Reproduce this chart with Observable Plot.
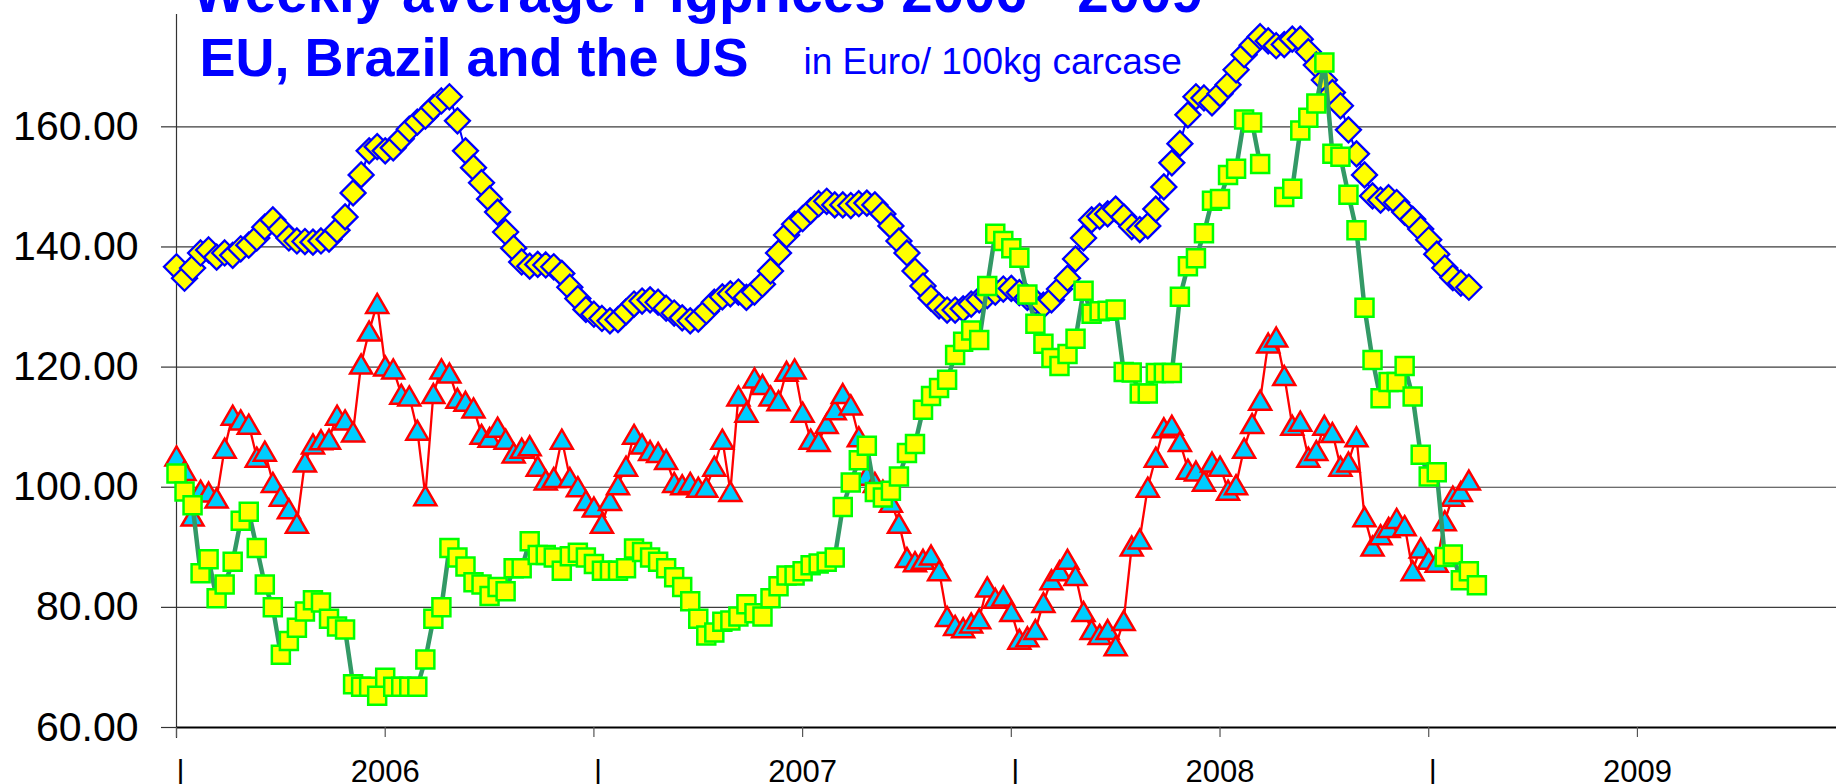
<!DOCTYPE html>
<html>
<head>
<meta charset="utf-8">
<script src="https://cdn.jsdelivr.net/npm/d3@7"></script>
<script src="https://cdn.jsdelivr.net/npm/@observablehq/plot@0.6"></script>
<style>
  html, body { margin: 0; padding: 0; background: #fff; }
  #chart { width: 1836px; height: 784px; overflow: hidden; }
</style>
</head>
<body>
<div id="chart"></div>
<script>
// Weekly pig prices, EUR / 100 kg carcase, week index from the first week of 2006
const euPrices = [
  136.7, 134.8, 136.5, 139, 139.5, 138.3, 139, 138.6, 139.7, 140.3,
  141.5, 143.3, 144.5, 143, 141.5, 141, 140.9, 140.8, 141, 141.3,
  142.8, 145, 149, 152, 156, 156.7, 156, 156.5, 158, 159.6,
  160.8, 161.8, 163.2, 164.3, 165, 161, 156, 153.2, 150.7, 148,
  145.8, 142.5, 139.8, 137.5, 136.8, 137.1, 137, 136.7, 135.6, 133.3,
  131.4, 129.6, 128.8, 128.1, 127.7, 127.9, 129.2, 130.5, 131, 131.2,
  130.8, 129.8, 129, 128.2, 127.7, 128, 129.3, 130.8, 131.7, 132.2,
  132.5, 131.6, 132.5, 133.8, 136, 139, 142, 143.8, 144.7, 146,
  147.2, 147.6, 147, 147, 146.9, 147.2, 147.3, 147, 145.5, 143.5,
  141, 139, 136, 133.5, 131.5, 130.2, 129.5, 129.5, 129.7, 130.5,
  131.2, 131.9, 132.5, 133, 133.1, 132.4, 131.6, 130.9, 130.3, 131.2,
  133, 134.8, 138, 141.5, 144.5, 145.1, 145.5, 146.3, 145, 143.4,
  142.9, 143.5, 146.3, 150, 154, 157.2, 162, 165, 164.8, 164,
  165.5, 167, 169.5, 172, 173.6, 175, 174.3, 173.5, 173.7, 174.6,
  174.6, 172.5, 170.3, 167.8, 165.7, 163.5, 159.5, 155.5, 152, 148.5,
  147.8, 148.2, 147.4, 145.8, 144.6, 143, 141.2, 138.8, 136.5, 134.9,
  134, 133.3
];
const brazilPrices = [
  105.2, 102.8, 95.2, 99.5, 99.2, 98.2, 106.5, 112, 111.2, 110.5,
  105, 106, 100.8, 98.5, 96.4, 94, 104.2, 107.2, 107.9, 108,
  112, 111.2, 109.2, 120.5, 126, 130.6, 120.2, 119.7, 115.5, 115.2,
  109.5, 98.6, 115.6, 119.7, 119, 114.8, 114.3, 113.2, 108.8, 108.3,
  110, 108, 105.7, 106.5, 106.9, 103.5, 101.2, 101.6, 108, 101.6,
  100.1, 97.8, 96.7, 94, 97.8, 100.4, 103.5, 108.8, 107.2, 106.1,
  105.8, 104.6, 100.8, 100.4, 100.8, 100, 100, 103.5, 108, 99.3,
  115.2, 112.5, 118.2, 117.1, 115.2, 114.4, 119.3, 119.7, 112.5, 108,
  107.6, 110.6, 112.9, 115.6, 113.7, 108.4, 102, 100.8, 99.5, 97.5,
  94, 88.3, 87.6, 88, 88.7, 86.1, 78.5, 77, 76.6, 77.4,
  78.1, 83.4, 81.5, 81.9, 79.3, 74.7, 75.1, 76.3, 80.8, 84.6,
  86.1, 88, 85.3, 79.3, 76.3, 75.5, 76.3, 73.6, 77.8, 90.2,
  91.4, 100, 105, 109.9, 110.3, 107.6, 103, 102.7, 101, 104.2,
  103.5, 99.5, 100.4, 106.5, 110.6, 114.5, 124, 125, 118.6, 110.3,
  111, 105, 106.1, 110.3, 109.1, 103.5, 104.2, 108.4, 95.1, 90.2,
  92.1, 93.3, 94.8, 93.6, 86.1, 89.9, 88, 87.5, 94.4, 98.5,
  99.3, 101.2
];
const usPrices = [
  102.3, 99.3, 97, 85.7, 88, 81.5, 83.8, 87.6, 94.4, 95.9,
  89.9, 83.8, 80, 72.1, 74.4, 76.6, 79.3, 81.2, 80.8, 78.1,
  76.8, 76.3, 67.2, 66.8, 66.8, 65.3, 68.3, 66.8, 66.8, 66.8,
  66.8, 71.3, 78.1, 80, 89.9, 88.3, 86.8, 84.2, 83.8, 81.9,
  83.4, 82.7, 86.5, 86.5, 91, 88.7, 88.7, 88.3, 86.1, 88.5,
  89.1, 88.3, 87.2, 86.1, 86.1, 86.1, 86.5, 89.8, 89.2, 88.3,
  87.6, 86.5, 85, 83.4, 81, 78.1, 75.3, 75.8, 77.6, 77.8,
  78.5, 80.5, 79, 78.5, 81.5, 83.5, 85.3, 85.3, 86, 87,
  87.3, 87.6, 88.3, 96.7, 100.8, 104.5, 106.9, 99.2, 98.3, 99.4,
  101.8, 105.7, 107.2, 112.9, 115.2, 116.5, 117.9, 122, 124.2, 126.1,
  124.5, 133.5, 142.2, 141, 139.8, 138.2, 132.1, 127.2, 123.9, 121.5,
  120.2, 122.2, 124.7, 132.7, 128.9, 129.3, 129.4, 129.6, 119.2, 119.1,
  115.6, 115.6, 119, 119, 119, 131.7, 136.8, 138.1, 142.3, 147.7,
  148, 152, 153, 161.2, 160.7, 153.8, null, null, 148.3, 149.7,
  159.4, 161.5, 163.9, 170.7, 155.5, 155, 148.7, 142.8, 129.9, 121.2,
  114.8, 117.5, 117.5, 120.2, 115.1, 105.4, 101.8, 102.5, 88.4, 88.8,
  84.5, 86, 83.7
];

const yTicks = [60, 80, 100, 120, 140, 160];
const gridValues = [80, 100, 120, 140, 160];
const weekTicks = [0, 26, 52, 78, 104, 130, 156, 182];
const yearLabels = ["2006", "2007", "2008", "2009"];
const yearMidWeeks = [26, 78, 130, 182];
const yearStartWeeks = [0, 52, 104, 156];
const titleLine1 = "Weekly average Pigprices 2006 - 2009";
const titleLine2 = "EU, Brazil and the US";
const subtitle = "in Euro/ 100kg carcase";

const toRows = (vals) => vals.map((v, i) => ({week: i, value: v}));
const euRows = toRows(euPrices);
const brRows = toRows(brazilPrices);
const usRows = toRows(usPrices);
const yearRows = yearMidWeeks.map((w, i) => ({week: w, label: yearLabels[i]}));

// marker shapes (Excel-like, centred on their bounding box)
const diamondSymbol = {draw(c) { c.moveTo(0, -12.5); c.lineTo(12.5, 0); c.lineTo(0, 12.5); c.lineTo(-12.5, 0); c.closePath(); }};
const triangleSymbol = {draw(c) { c.moveTo(0, -9.5); c.lineTo(11, 9.5); c.lineTo(-11, 9.5); c.closePath(); }};
const squareSymbol = {draw(c) { c.moveTo(-9, -9); c.lineTo(9, -9); c.lineTo(9, 9); c.lineTo(-9, 9); c.closePath(); }};

const font = "'Liberation Sans', Arial, Helvetica, sans-serif";

const chart = Plot.plot({
  width: 1836,
  height: 784,
  marginLeft: 176,
  marginRight: 0,
  marginTop: 14,
  marginBottom: 57,
  style: {fontFamily: font, background: "#fff", color: "#000"},
  x: {type: "linear", domain: [0, 206.8], axis: null},
  y: {type: "linear", domain: [60, 178.7], axis: null},
  marks: [
    Plot.ruleY(gridValues, {stroke: "#3c3c3c", strokeWidth: 1.2}),
    Plot.ruleX([0], {stroke: "#333", strokeWidth: 1.2, insetBottom: -11}),
    Plot.ruleY([60], {stroke: "#000", strokeWidth: 2}),
    Plot.axisY(yTicks, {
      label: null, tickSize: 15, tickPadding: 23, stroke: "#333", strokeWidth: 1.2,
      tickFormat: (d) => d.toFixed(2), fontSize: 41, fill: "#000", fontVariant: "normal"
    }),
    Plot.axisX(weekTicks, {label: null, tickSize: 10, stroke: "#555", strokeWidth: 1.2, tickFormat: () => ""}),
    Plot.text(yearRows, {x: "week", text: "label", frameAnchor: "bottom", dy: 54, lineAnchor: "bottom", fontSize: 31, fill: "#000"}),
    Plot.text(yearStartWeeks, {x: (d) => d, text: () => "|", frameAnchor: "bottom", dy: 54, dx: 4, lineAnchor: "bottom", fontSize: 31, fill: "#000"}),

    // EU: yellow diamonds, blue outline
    Plot.line(euRows, {x: "week", y: "value", stroke: "#0000ff", strokeWidth: 2}),
    Plot.dot(euRows, {x: "week", y: "value", symbol: diamondSymbol, r: 5, fill: "#ffff00", stroke: "#0000ff", strokeWidth: 2.3}),
    // Brazil: cyan triangles, red outline
    Plot.line(brRows, {x: "week", y: "value", stroke: "#ff0000", strokeWidth: 2.3}),
    Plot.dot(brRows, {x: "week", y: "value", symbol: triangleSymbol, r: 5, fill: "#00ccff", stroke: "#ff0000", strokeWidth: 2.5}),
    // US: yellow squares, green outline, thick sea-green line
    Plot.line(usRows, {x: "week", y: "value", stroke: "#339966", strokeWidth: 4.5}),
    Plot.dot(usRows, {x: "week", y: "value", symbol: squareSymbol, r: 5, fill: "#ffff00", stroke: "#00ff00", strokeWidth: 2.5}),

    // titles
    Plot.text([titleLine1], {text: (d) => d, frameAnchor: "top-left", dx: 16, dy: -3, textAnchor: "start", lineAnchor: "bottom", fontSize: 56.5, fontWeight: "bold", fill: "#0000ff"}),
    Plot.text([titleLine2], {text: (d) => d, frameAnchor: "top-left", dx: 23, dy: 61, textAnchor: "start", lineAnchor: "bottom", fontSize: 54, fontWeight: "bold", fill: "#0000ff"}),
    Plot.text([subtitle], {text: (d) => d, frameAnchor: "top-left", dx: 627, dy: 59, textAnchor: "start", lineAnchor: "bottom", fontSize: 37, fill: "#0000ff"})
  ]
});
document.getElementById("chart").appendChild(chart);
</script>
</body>
</html>
